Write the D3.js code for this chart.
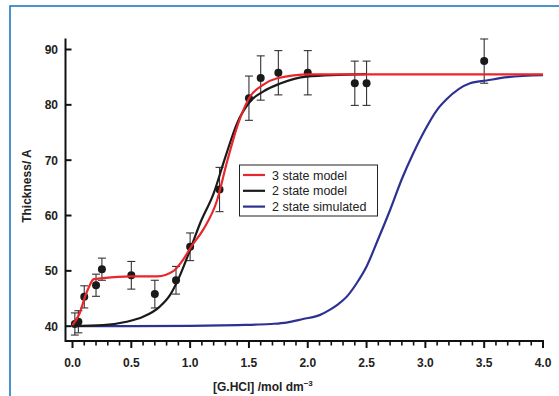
<!DOCTYPE html>
<html>
<head>
  <meta charset="utf-8">
  <script src="https://d3js.org/d3.v7.min.js"></script>
  <style>
    html, body { margin:0; padding:0; background:#fff; }
    svg { display:block; font-family: "Liberation Sans", Arial, sans-serif; }
  </style>
  <title></title>
</head>
<body>
<svg id="chart" width="559" height="396"></svg>
<script>
    // measured points with error bars
    var pointX = [0.02, 0.05, 0.1, 0.2, 0.25, 0.5, 0.7, 0.88, 1.0, 1.25, 1.5, 1.6, 1.75, 2.0, 2.4, 2.5, 3.5];
    var pointY = [40.4, 40.8, 45.3, 47.4, 50.3, 49.2, 45.8, 48.3, 54.35, 64.7, 81.2, 84.85, 85.8, 85.8, 83.9, 83.9, 87.9];
    var pointErr = [2, 2, 2, 2, 2, 2.5, 2.5, 2.5, 2.5, 4, 4, 4, 4, 4, 4, 4, 4];

    // fitted curves
    var redX = [0.0, 0.06, 0.106, 0.149, 0.18, 0.26, 0.5, 0.72, 0.86, 0.94, 1.01, 1.11, 1.23, 1.31, 1.41, 1.51, 1.62, 1.74, 2.02, 4.0];
    var redY = [40.2, 42.3, 45.3, 47.5, 48.5, 48.7, 49.0, 49.0, 50.0, 52.0, 54.4, 57.4, 62.8, 69.4, 76.7, 81.5, 83.6, 84.8, 85.5, 85.5];
    var blackX = [0.0, 0.26, 0.46, 0.60, 0.74, 0.83, 0.91, 1.0, 1.085, 1.20, 1.30, 1.40, 1.51, 1.62, 1.76, 1.99, 2.5];
    var blackY = [40.05, 40.2, 40.8, 41.7, 43.5, 45.65, 49.0, 53.8, 58.6, 64.0, 70.6, 76.7, 80.6, 82.4, 83.8, 85.1, 85.55];
    var blueX = [0.0, 0.5, 1.0, 1.4, 1.68, 1.82, 1.96, 2.10, 2.19, 2.26, 2.33, 2.42, 2.50, 2.60, 2.70, 2.80, 2.90, 3.0, 3.10, 3.18, 3.38, 3.52, 3.7, 4.0];
    var blueY = [40.0, 40.0, 40.05, 40.2, 40.4, 40.65, 41.3, 42.0, 43.0, 44.0, 45.3, 47.9, 50.8, 55.8, 61.0, 66.6, 71.4, 75.6, 79.1, 81.0, 83.9, 84.4, 85.0, 85.35];

    var legendNames = ["3 state model", "2 state model", "2 state simulated"];
    var lineColors = ["#e8262b", "#1a1a1a", "#2e3192"];

    var xTicks = [0, 0.5, 1, 1.5, 2, 2.5, 3, 3.5, 4];
    var yTicks = [40, 50, 60, 70, 80, 90];

    var svg = d3.select("#chart");

    // blue frame round the figure
    svg.append("rect")
        .attr("x", 10).attr("y", 6)
        .attr("width", 600).attr("height", 500)
        .style("fill", "none")
        .style("stroke", "#1f7ac0")
        .style("stroke-width", 1.6);

    var x = d3.scaleLinear().domain([0, 4]).range([72.5, 543]);
    var y = d3.scaleLinear().domain([40, 90]).range([326.2, 49.5]);
    var axisLeft = 65.5, axisBottom = 341, axisTop = 38.5;

    // x axis: minor ticks every 0.1, major every 0.5
    var xAxis = svg.append("g").attr("transform", "translate(0," + axisBottom + ")");
    xAxis.append("line")
        .attr("x1", axisLeft).attr("x2", x(4) + 1)
        .style("stroke", "#111").style("stroke-width", 2);
    xAxis.selectAll(".minor").data(d3.range(0, 41))
        .enter().append("line")
        .attr("x1", function(d){ return x(d / 10); })
        .attr("x2", function(d){ return x(d / 10); })
        .attr("y1", 0)
        .attr("y2", function(d){ return d % 5 == 0 ? 7 : 4.5; })
        .style("stroke", "#111")
        .style("stroke-width", function(d){ return d % 5 == 0 ? 2 : 1.6; });
    xAxis.selectAll(".lab").data(xTicks)
        .enter().append("text")
        .attr("x", function(d){ return x(d); })
        .attr("y", 26)
        .attr("text-anchor", "middle")
        .style("font-size", "12px").style("font-weight", "bold").style("fill", "#222")
        .text(function(d){ return d.toFixed(1); });

    // y axis, ticks pointing inwards
    var yAxis = svg.append("g");
    yAxis.append("line")
        .attr("x1", axisLeft).attr("x2", axisLeft)
        .attr("y1", axisTop).attr("y2", axisBottom + 1)
        .style("stroke", "#111").style("stroke-width", 2);
    yAxis.selectAll(".tick").data(yTicks)
        .enter().append("line")
        .attr("x1", axisLeft).attr("x2", axisLeft + 6)
        .attr("y1", function(d){ return y(d); })
        .attr("y2", function(d){ return y(d); })
        .style("stroke", "#111").style("stroke-width", 2);
    yAxis.selectAll(".lab").data(yTicks)
        .enter().append("text")
        .attr("x", 58)
        .attr("y", function(d){ return y(d) + 4.5; })
        .attr("text-anchor", "end")
        .style("font-size", "12px").style("font-weight", "bold").style("fill", "#222")
        .text(function(d){ return d; });

    svg.append("text")
        .attr("transform", "translate(31,186) rotate(-90)")
        .attr("text-anchor", "middle")
        .style("font-size", "12px").style("font-weight", "bold").style("fill", "#222")
        .text("Thickness/ A");

    var xTitle = svg.append("text")
        .attr("x", 213).attr("y", 391)
        .style("font-size", "12px").style("font-weight", "bold").style("fill", "#222");
    xTitle.append("tspan").text("[G.HCl] /mol dm");
    xTitle.append("tspan").attr("dy", -5).style("font-size", "8px").text("\u22123");

    // error bars and points
    var pts = d3.range(pointX.length);
    var bars = svg.append("g").style("stroke", "#333").style("stroke-width", 1.1);
    pts.forEach(function(i){
        var cx = x(pointX[i]), top = y(pointY[i] + pointErr[i]), bot = y(pointY[i] - pointErr[i]);
        bars.append("line").attr("x1", cx).attr("x2", cx).attr("y1", top).attr("y2", bot);
        bars.append("line").attr("x1", cx - 4).attr("x2", cx + 4).attr("y1", top).attr("y2", top);
        bars.append("line").attr("x1", cx - 4).attr("x2", cx + 4).attr("y1", bot).attr("y2", bot);
    });
    svg.append("g").selectAll("circle").data(pts)
        .enter().append("circle")
        .attr("cx", function(i){ return x(pointX[i]); })
        .attr("cy", function(i){ return y(pointY[i]); })
        .attr("r", 4)
        .style("fill", "#1a1a1a");

    // curves
    var line = d3.line()
        .x(function(d){ return x(d[0]); })
        .y(function(d){ return y(d[1]); })
        .curve(d3.curveMonotoneX);
    var series = [d3.zip(redX, redY), d3.zip(blackX, blackY), d3.zip(blueX, blueY)];
    [2, 1, 0].forEach(function(k){
        svg.append("path")
            .attr("d", line(series[k]))
            .style("fill", "none")
            .style("stroke", lineColors[k])
            .style("stroke-width", 2.2);
    });

    // legend
    var legend = svg.append("g");
    legend.append("rect")
        .attr("x", 239.5).attr("y", 165)
        .attr("width", 138).attr("height", 51)
        .style("fill", "#fff").style("stroke", "#222").style("stroke-width", 1);
    legendNames.forEach(function(name, i){
        var ly = 175 + i * 15.8;
        legend.append("line")
            .attr("x1", 243).attr("x2", 265)
            .attr("y1", ly).attr("y2", ly)
            .style("stroke", lineColors[i]).style("stroke-width", 2.2);
        legend.append("text")
            .attr("x", 272).attr("y", ly + 4.5)
            .style("font-size", "12.5px").style("fill", "#222")
            .text(name);
    });
</script>
</body>
</html>
